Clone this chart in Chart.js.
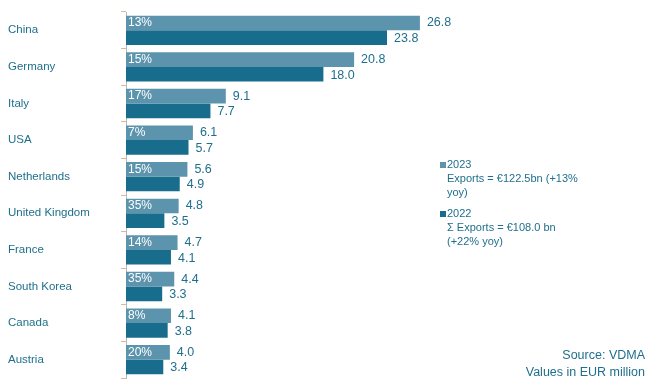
<!DOCTYPE html>
<html lang="en">
<head>
    <meta charset="UTF-8">
    <title>Exports by country</title>
    <script src="https://cdn.jsdelivr.net/npm/chart.js@4.4.1/dist/chart.umd.min.js"></script>
    <style>
        html, body { margin: 0; padding: 0; background: #ffffff; }
        .wrap { position: relative; width: 660px; height: 390px; }
    </style>
</head>
<body>
<div class="wrap">
    <canvas id="exportChart" width="660" height="390"></canvas>
</div>

<script>
    // values
    let countries = ["China", "Germany", "Italy", "USA", "Netherlands", "United Kingdom", "France", "South Korea", "Canada", "Austria"];
    let exports2023 = [26.8, 20.8, 9.1, 6.1, 5.6, 4.8, 4.7, 4.4, 4.1, 4.0];
    let exports2022 = [23.8, 18.0, 7.7, 5.7, 4.9, 3.5, 4.1, 3.3, 3.8, 3.4];
    let growth = ["13%", "15%", "17%", "7%", "15%", "35%", "14%", "35%", "8%", "20%"];
    let legend2023 = ["2023", "Exports = €122.5bn (+13%", "yoy)"];
    let legend2022 = ["2022", "Σ Exports = €108.0 bn", "(+22% yoy)"];
    let sourceNote = ["Source: VDMA", "Values in EUR million"];

    let lightBlue = "#5c93ad";
    let darkBlue = "#186d8d";
    let textColor = "#1f6f8c";
    let font = "'Liberation Sans', Arial, sans-serif";

    // writes the numbers next to the bars, the growth inside, and the side notes
    let labelPlugin = {
        id: "barLabels",
        afterDatasetsDraw(chart) {
            let ctx = chart.ctx;
            ctx.save();
            ctx.textBaseline = "middle";

            let bars23 = chart.getDatasetMeta(0).data;
            let bars22 = chart.getDatasetMeta(1).data;
            for (let i = 0; i < bars23.length; i++) {
                ctx.font = "12px " + font;
                ctx.fillStyle = "#ffffff";
                ctx.textAlign = "left";
                ctx.fillText(growth[i], bars23[i].base + 2, bars23[i].y);

                ctx.font = "12.5px " + font;
                ctx.fillStyle = textColor;
                ctx.fillText(exports2023[i].toFixed(1), bars23[i].x + 7, bars23[i].y);
                ctx.fillText(exports2022[i].toFixed(1), bars22[i].x + 7, bars22[i].y + 1);
            }

            // legend block
            let lx = 440;
            ctx.font = "11px " + font;
            let drawBlock = function (lines, color, y) {
                ctx.fillStyle = color;
                ctx.fillRect(lx, y - 3, 6, 6);
                ctx.fillStyle = textColor;
                ctx.fillText(lines[0], lx + 7, y);
                ctx.fillText(lines[1], lx + 7, y + 14);
                ctx.fillText(lines[2], lx + 7, y + 28);
            };
            drawBlock(legend2023, lightBlue, 165);
            drawBlock(legend2022, darkBlue, 214);

            // source
            ctx.font = "12.5px " + font;
            ctx.textAlign = "right";
            ctx.fillText(sourceNote[0], 645, 356);
            ctx.fillText(sourceNote[1], 645, 373);
            ctx.restore();
        }
    };

    new Chart("exportChart", {
        type: "bar",
        data: {
            labels: countries,
            datasets: [{
                label: "2023",
                data: exports2023,
                backgroundColor: lightBlue,
                categoryPercentage: 0.8,
                barPercentage: 1.0
            }, {
                label: "2022",
                data: exports2022,
                backgroundColor: darkBlue,
                categoryPercentage: 0.8,
                barPercentage: 1.0
            }]
        },
        options: {
            indexAxis: "y",
            responsive: false,
            animation: false,
            layout: {
                padding: { left: 8, right: 205, top: 12, bottom: 12 }
            },
            plugins: {
                legend: { display: false },
                tooltip: { enabled: false }
            },
            scales: {
                x: {
                    display: false,
                    min: 0,
                    max: 30
                },
                y: {
                    afterFit: function (scale) { scale.width = 118; },
                    border: { display: true, color: "#b8b8b8", width: 1 },
                    grid: {
                        offset: true,
                        drawOnChartArea: false,
                        drawTicks: true,
                        tickLength: 5,
                        color: "#d9b8a0"
                    },
                    ticks: {
                        crossAlign: "far",
                        color: textColor,
                        padding: 4,
                        font: { family: font, size: 11.5 }
                    }
                }
            }
        },
        plugins: [labelPlugin]
    });
</script>
</body>
</html>
